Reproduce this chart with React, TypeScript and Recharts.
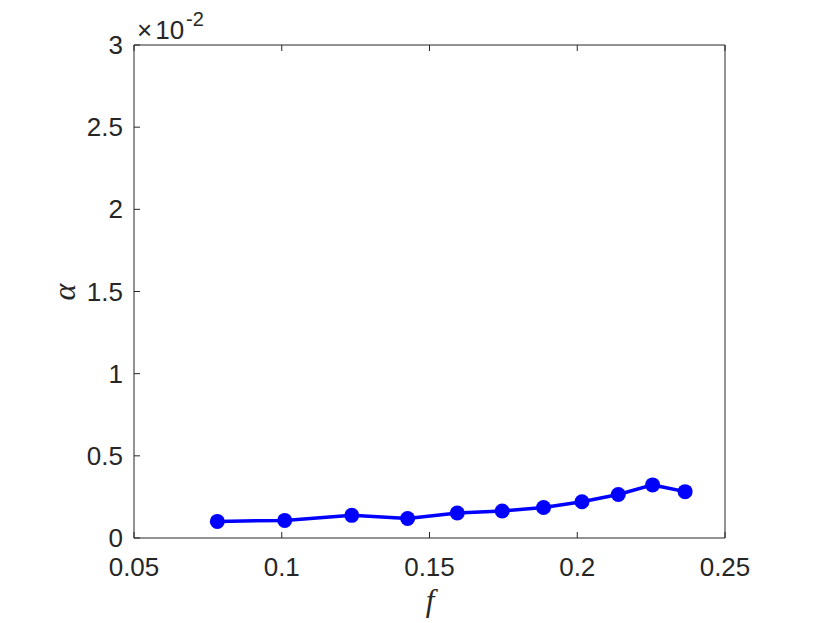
import { LineChart, Line, XAxis, YAxis } from 'recharts'

// filling fraction f vs. alpha (values as measured, alpha in absolute units)
const fValues = [0.0782, 0.101, 0.1237, 0.1426, 0.1594, 0.1746, 0.1886, 0.2016, 0.2139, 0.2255, 0.2365]
const alphaValues = [0.00101, 0.00107, 0.00138, 0.00119, 0.00152, 0.00164, 0.00186, 0.00221, 0.00265, 0.00323, 0.00282]
const xTicks = [0.05, 0.1, 0.15, 0.2, 0.25]
const yTicks = [0, 0.005, 0.01, 0.015, 0.02, 0.025, 0.03]

const data = fValues.map((f, i) => ({ f, alpha: alphaValues[i] }))

const INK = '#262626'
const SANS = '"Liberation Sans", Arial, sans-serif'
const SERIF = '"Liberation Serif", "Times New Roman", serif'
const TICK_LEN = 6
// recharts offsets the tick anchor by tickSize; keep it at 1 and undo it here
const TS = 1

const fmtX = (v: number) => String(v)
const fmtY = (v: number) => String(Math.round(v * 1000) / 10)

function BottomTick({ x, y, payload }: any) {
  const ay = y - TS
  return (
    <g>
      <line x1={x} x2={x} y1={ay} y2={ay - TICK_LEN} stroke={INK} strokeWidth={1} />
      <text x={x} y={ay + 38} textAnchor="middle" fill={INK} style={{ fontSize: 26, fontFamily: SANS }}>
        {fmtX(payload.value)}
      </text>
    </g>
  )
}

function LeftTick({ x, y, payload }: any) {
  const ax = x + TS
  return (
    <g>
      <line x1={ax} x2={ax + TICK_LEN} y1={y} y2={y} stroke={INK} strokeWidth={1} />
      <text x={ax - 11} y={y + 9} textAnchor="end" fill={INK} style={{ fontSize: 26, fontFamily: SANS }}>
        {fmtY(payload.value)}
      </text>
    </g>
  )
}

function TopTick({ x, y }: any) {
  const ay = y + TS
  return <line x1={x} x2={x} y1={ay} y2={ay + TICK_LEN} stroke={INK} strokeWidth={1} />
}

function RightTick({ x, y }: any) {
  const ax = x - TS
  return <line x1={ax} x2={ax - TICK_LEN} y1={y} y2={y} stroke={INK} strokeWidth={1} />
}

export default function App() {
  return (
    <div style={{ position: 'absolute', left: 0, top: 0, width: 830, height: 623, background: '#fff' }}>
      <LineChart width={830} height={623} data={data} margin={{ top: 44, right: 104, bottom: 0, left: 0 }}>
        <XAxis
          xAxisId="bottom"
          dataKey="f"
          type="number"
          domain={[0.05, 0.25]}
          ticks={xTicks}
          interval={0}
          height={85}
          tickSize={TS}
          tickMargin={0}
          tickLine={false}
          axisLine={{ stroke: INK, strokeWidth: 1 }}
          tick={<BottomTick />}
          label={{
            content: () => (
              <text
                x={430}
                y={611}
                textAnchor="middle"
                fill={INK}
                style={{ fontSize: 31, fontFamily: SERIF, fontStyle: 'italic' }}
              >
                f
              </text>
            ),
          }}
        />
        <XAxis
          xAxisId="top"
          orientation="top"
          dataKey="f"
          type="number"
          domain={[0.05, 0.25]}
          ticks={xTicks}
          interval={0}
          height={1}
          tickSize={TS}
          tickMargin={0}
          tickLine={false}
          axisLine={{ stroke: INK, strokeWidth: 1 }}
          tick={<TopTick />}
          label={{
            content: () => (
              <text x={137} y={39} fill={INK} style={{ fontSize: 26, fontFamily: SANS }}>
                ×
                <tspan dx={3}>10</tspan>
                <tspan dx={2} dy={-13} style={{ fontSize: 20 }}>
                  -2
                </tspan>
              </text>
            ),
          }}
        />
        <YAxis
          yAxisId="left"
          type="number"
          domain={[0, 0.03]}
          ticks={yTicks}
          interval={0}
          width={134}
          tickSize={TS}
          tickMargin={0}
          tickLine={false}
          axisLine={{ stroke: INK, strokeWidth: 1 }}
          tick={<LeftTick />}
          label={{
            content: () => (
              <text
                x={64}
                y={292}
                transform="rotate(-90 64 292)"
                textAnchor="middle"
                dominantBaseline="central"
                fill={INK}
                style={{ fontSize: 32, fontFamily: SERIF, fontStyle: 'italic' }}
              >
                α
              </text>
            ),
          }}
        />
        <YAxis
          yAxisId="right"
          orientation="right"
          type="number"
          domain={[0, 0.03]}
          ticks={yTicks}
          interval={0}
          width={1}
          tickSize={TS}
          tickMargin={0}
          tickLine={false}
          axisLine={{ stroke: INK, strokeWidth: 1 }}
          tick={<RightTick />}
        />
        <Line
          xAxisId="bottom"
          yAxisId="left"
          dataKey="alpha"
          type="linear"
          stroke="#0000ff"
          strokeWidth={3.5}
          dot={{ r: 7.5, fill: '#0000ff', stroke: '#0000ff', strokeWidth: 0 }}
          isAnimationActive={false}
        />
      </LineChart>
    </div>
  )
}
